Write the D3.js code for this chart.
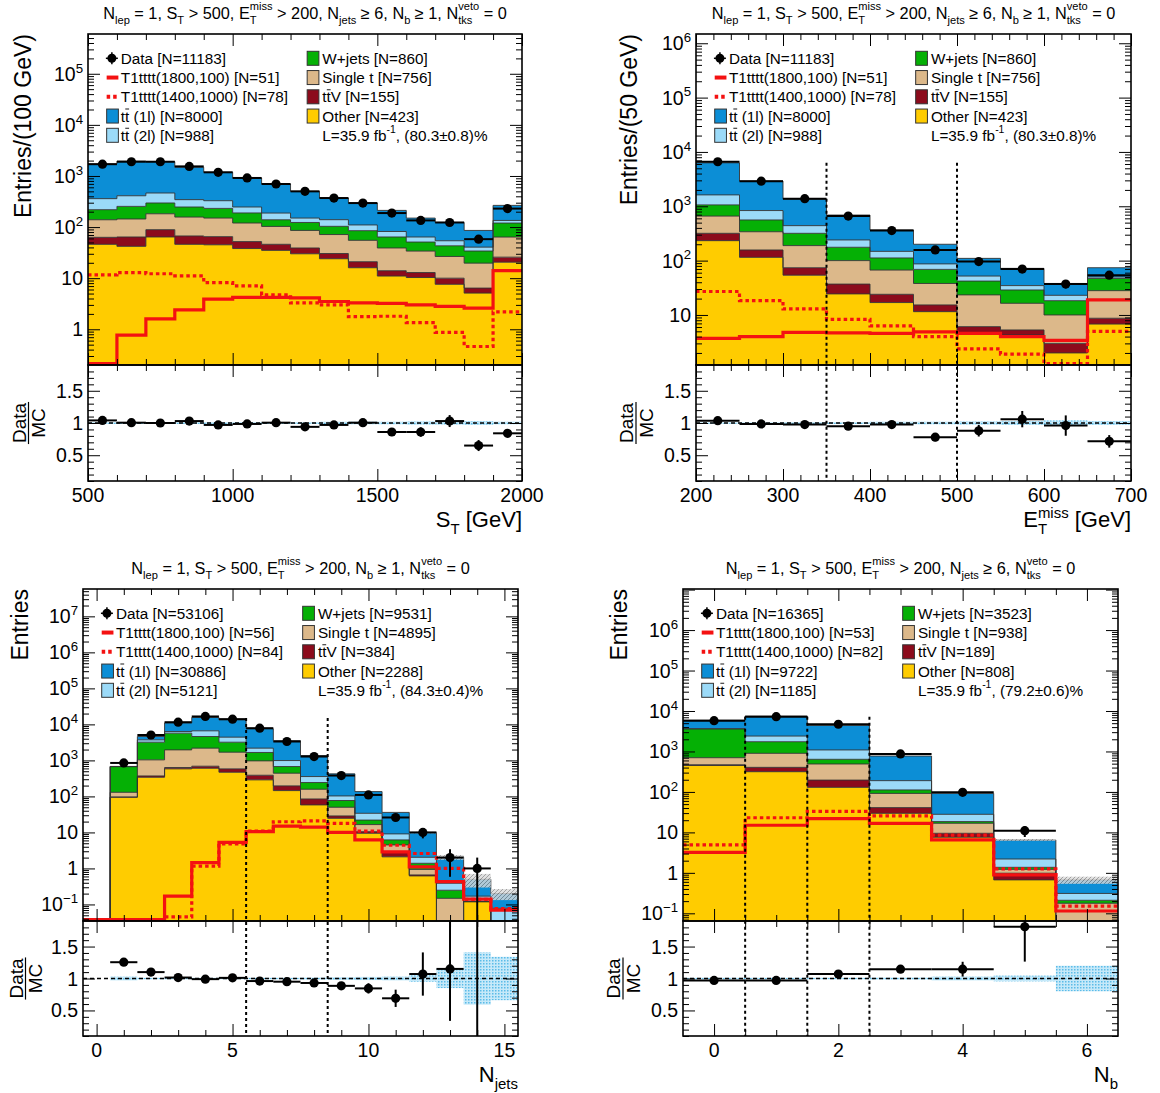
<!DOCTYPE html>
<html><head><meta charset="utf-8">
<script src="https://cdn.jsdelivr.net/npm/d3@7"></script>
<style>
body{margin:0;background:#fff}
svg{display:block}
text{font-family:"Liberation Sans",Arial,Helvetica,sans-serif;white-space:pre}
</style>
</head><body><svg id="c" width="1160" height="1093"></svg>
<script>
// ---------------- DATA ----------------
// Panel 1: S_T
const p1Edges = [500,600,700,800,900,1000,1100,1200,1300,1400,1500,1600,1700,1800,1900,2000];
const p1Other = [46,42,64,46,45,38,35,30,24,16,11,10.3,7.6,5.1,20.6];
const p1TtV   = [17,22,25,21,20,14,11,9,6.4,5,3,2.6,2.4,1.3,5.2];
const p1SingleT = [76,80,93,90,85,68,57,47,41,34,25,21,16.6,13.3,38];
const p1WJets = [80,110,114,90,82,69,36,37,32,30,25,17,16.4,14.3,56];
const p1Tt2l  = [141,156,168,97,96,58,49,27,36,25,18,13,11,6.5,15];
const p1Tt1l  = [1358,1540,1436,1136,852,667,509,350,231,185,130,86,69,45.5,131];
const p1Data  = [1700,1900,1900,1540,1180,914,697,500,370,295,188,135,123,58,230];
const p1Ratio = [1.04,1.005,1.0,1.03,0.97,0.985,1.005,0.94,0.97,1.005,0.86,0.86,1.03,0.65,0.84];
const p1Sig1  = [0.1,0.77,1.6,2.4,3.9,4.2,4.2,4.1,3.5,3.3,3.2,3.0,2.8,2.6,14.1];
const p1Sig2  = [11.6,12.9,12.2,11.1,8.2,7.1,4.7,3.3,3.0,1.77,1.8,1.35,0.87,0.46,2.2];
const p1McErr = [0.015,0.015,0.015,0.015,0.015,0.015,0.015,0.015,0.02,0.02,0.02,0.025,0.025,0.03,0.02];
const p1LegendN = [11183,51,78,8000,988,860,756,155,423];
const p1Eff = "(80.3\u00b10.8)%";

// Panel 2: MET
const p2Edges = [200,250,300,350,400,450,500,550,600,650,700];
const p2Other = [233,115,54,24.4,16.9,11.5,4.7,4.3,2.0,6.8];
const p2TtV   = [85,42,20,12.6,7.1,3.8,1.4,1.0,1.0,1.9];
const p2SingleT = [342,183,115,63,43,22.7,17.3,11.1,7,19.3];
const p2WJets = [400,220,129,76,45,31,18.6,12.4,8.3,19];
const p2Tt2l  = [560,274,122,64,36,18,10,5.9,4.7,3];
const p2Tt1l  = [4680,2086,910,450,218,113,58,37.3,15,24];
const p2Data  = [6600,2900,1380,660,357,157,96,70,37,54];
const p2Ratio = [1.036,0.985,0.975,0.95,0.975,0.78,0.88,1.06,0.96,0.715];
const p2Sig1  = [3.7,4.0,4.8,4.7,4.6,4.9,4.6,4.0,3.4,18.9];
const p2Sig2  = [27,18.4,12.9,8.3,6.3,4.0,2.37,1.9,1.1,5.0];
const p2McErr = [0.01,0.01,0.015,0.015,0.02,0.02,0.025,0.03,0.04,0.03];
const p2LegendN = [11183,51,78,8000,988,860,756,155,423];
const p2Eff = "(80.3\u00b10.8)%";
const p2Lines = [350,500];

// Panel 3: Njets
const p3Cats  = [0,1,2,3,4,5,6,7,8,9,10,11,12,13,14,15];
const p3Other = [0,95,341,582,607,470,288,145,58,24.7,9.5,2.1,0.62,0,0.12,0];
const p3TtV   = [0,1,29,53,83,112,99,51,27,4,1,0.8,0.04,0,0,0];
const p3SingleT = [0,34,665,1325,1500,1108,583,245,73,21.3,6,1.6,0.28,0.148,0,0];
const p3WJets = [0,540,2165,3740,2420,1510,690,235,85,27,5.5,1.7,0.45,0.1,0,0];
const p3Tt2l  = [0,5,520,630,2010,1220,530,314,113,26,12,2.9,0.65,0.14,0.05,0.078];
const p3Tt1l  = [0,5,890,4670,8950,8980,5340,2540,1009,320,102,26.9,7.86,1.66,0.33,0.122];
const p3Data  = [0,850,5070,11500,16600,14000,7850,3350,1280,380,110,26,10,2,1,0];
const p3Ratio = [null,1.255,1.10,1.015,0.99,1.01,0.96,0.95,0.93,0.885,0.845,0.69,1.07,1.15,2.0,null];
const p3Sig1  = [0.01,0.01,0.01,0.17,1.45,5.3,10.5,15,14,10,6.2,2.9,1.1,0.43,0.14,0.07];
const p3Sig2  = [0.01,0.01,0.01,0.045,1.16,4.8,10.9,19.8,21,17.8,10.9,4.4,2.6,1.0,0.138,0.077];
const p3McErr = [0,0.03,0.01,0.01,0.01,0.01,0.01,0.01,0.015,0.02,0.025,0.03,0.05,0.15,0.41,0.34];
const p3LegendN = [53106,56,84,30886,5121,9531,4895,384,2288];
const p3Eff = "(84.3\u00b10.4)%";
const p3Lines = [5.5,8.5];

// Panel 4: Nb
const p4Cats  = [0,1,2,3,4,5,6];
const p4Other = [450,316,130,29.6,7.6,0.67,0];
const p4TtV   = [20,89,66,11.4,1.9,0.31,0];
const p4SingleT = [230,495,294,51,7.3,0.24,0.177];
const p4WJets = [2900,840,150,20,1.7,0.15,0.033];
const p4Tt2l  = [50,660,450,78,9.5,0.83,0.1];
const p4Tt1l  = [2280,5070,3300,581,64,4.3,0.36];
const p4Data  = [5750,7250,4700,870,98,11,0];
const p4Ratio = [0.97,0.97,1.07,1.146,1.146,1.81,null];
const p4Sig1  = [3.2,15,22,16.8,6.5,0.89,0.114];
const p4Sig2  = [4.9,23,33,25.5,8.6,1.25,0.15];
const p4McErr = [0.01,0.01,0.01,0.015,0.03,0.045,0.2];
const p4LegendN = [16365,53,82,9722,1185,3523,938,189,808];
const p4Eff = "(79.2\u00b10.6)%";
const p4Lines = [0.5,1.5,2.5];

const COLORS = {other:'#ffcc00', ttv:'#8c0b1c', st:'#dcb88a', w:'#05b005', tt2l:'#9bdaf8', tt1l:'#0c8ed6'};
const RED = '#f41111';

// ---------------- HELPERS ----------------
const svg = d3.select('#c');
const defs = svg.append('defs');
const hp = defs.append('pattern').attr('id','hatch').attr('width',4).attr('height',4).attr('patternUnits','userSpaceOnUse');
hp.append('rect').attr('width',4).attr('height',4).attr('fill','#d8d8d8');
hp.append('path').attr('d','M0,4 L4,0').attr('stroke','#777').attr('stroke-width',0.8);
const bp = defs.append('pattern').attr('id','dotblue').attr('width',3).attr('height',3).attr('patternUnits','userSpaceOnUse');
bp.append('rect').attr('width',3).attr('height',3).attr('fill','#c6e9f9');
bp.append('rect').attr('width',1.5).attr('height',1.5).attr('fill','#5bbbe8');

function rich(parent, x, y, segs, fs, opts={}) {
  const anchor = opts.anchor||'start', rot = opts.rot||0;
  const subF = opts.subF||0.68;
  const subDy = opts.subDy!=null?opts.subDy:0.3, supDy = opts.supDy!=null?opts.supDy:-0.55;
  const outer = parent.append('g').attr('transform', `translate(${x},${y}) rotate(${rot})`);
  const g = outer.append('g');
  let cx = 0;
  const add = (t, px, py, size) => {
    const el = g.append('text').attr('x',px).attr('y',py).attr('font-size',size).attr('fill','#000').text(t);
    return el.node().getComputedTextLength();
  };
  segs.forEach(s => {
    if (typeof s === 'string') cx += add(s, cx, 0, fs);
    else if (s.bar) {
      const w = add(s.bar, cx, 0, fs);
      g.append('line').attr('x1',cx+w*0.05).attr('x2',cx+w*0.95).attr('y1',-fs*0.82).attr('y2',-fs*0.82)
        .attr('stroke','#000').attr('stroke-width',0.9);
      cx += w;
    } else {
      let w = 0;
      if (s.sub!=null) w = Math.max(w, add(s.sub, cx, fs*subDy, fs*subF));
      if (s.sup!=null) w = Math.max(w, add(s.sup, cx, fs*supDy, fs*subF));
      cx += w;
    }
  });
  const off = anchor==='middle' ? -cx/2 : anchor==='end' ? -cx : 0;
  g.attr('transform', `translate(${off},0)`);
  return cx;
}

function ticks(g, axisFn, scale, tx, ty, vals, len) {
  g.append('g').attr('transform',`translate(${tx},${ty})`)
    .call(axisFn(scale).tickValues(vals).tickSize(-len).tickFormat('').tickSizeOuter(0))
    .call(a => { a.select('.domain').remove(); a.selectAll('line').attr('stroke','#000').attr('stroke-width',1); });
}

const titleFull = ['N',{sub:'lep'},' = 1, S',{sub:'T'},' > 500, E',{sub:'T',sup:'miss'},' > 200, N',{sub:'jets'},' \u2265 6, N',{sub:'b'},' \u2265 1, N',{sub:'tks',sup:'veto'},' = 0'];
const titleNj = ['N',{sub:'lep'},' = 1, S',{sub:'T'},' > 500, E',{sub:'T',sup:'miss'},' > 200, N',{sub:'b'},' \u2265 1, N',{sub:'tks',sup:'veto'},' = 0'];
const titleNb = ['N',{sub:'lep'},' = 1, S',{sub:'T'},' > 500, E',{sub:'T',sup:'miss'},' > 200, N',{sub:'jets'},' \u2265 6, N',{sub:'tks',sup:'veto'},' = 0'];

const comps = (o,v,s,w,t2,t1) => ({other:o, ttv:v, st:s, w:w, tt2l:t2, tt1l:t1});

const panels = [
  {id:1, x0:88, x1:522, yTop:34, ySplit:365, yBot:481, xDomain:[500,2000], yDomain:[0.2,6.0e5],
   lo:p1Edges.slice(0,-1), hi:p1Edges.slice(1), comps:comps(p1Other,p1TtV,p1SingleT,p1WJets,p1Tt2l,p1Tt1l),
   data:p1Data, ratio:p1Ratio, sig1:p1Sig1, sig2:p1Sig2, mcErr:p1McErr, legendN:p1LegendN, eff:p1Eff,
   xMajor:[500,1000,1500,2000], xMinor:d3.range(500,2001,100), xLabels:[500,1000,1500,2000],
   title:titleFull, xTitle:['S',{sub:'T'},' [GeV]'], yTitle:'Entries/(100 GeV)', yTitleX:31, rTitleX:28.5,
   vlines:[], vTop:1},
  {id:2, x0:696, x1:1131, yTop:34, ySplit:365, yBot:481, xDomain:[200,700], yDomain:[1.2,1.48e6],
   lo:p2Edges.slice(0,-1), hi:p2Edges.slice(1), comps:comps(p2Other,p2TtV,p2SingleT,p2WJets,p2Tt2l,p2Tt1l),
   data:p2Data, ratio:p2Ratio, sig1:p2Sig1, sig2:p2Sig2, mcErr:p2McErr, legendN:p2LegendN, eff:p2Eff,
   xMajor:[200,300,400,500,600,700], xMinor:d3.range(200,701,20), xLabels:[200,300,400,500,600,700],
   title:titleFull, xTitle:['E',{sub:'T',sup:'miss'},' [GeV]'], yTitle:'Entries/(50 GeV)', yTitleX:637, rTitleX:636,
   vlines:p2Lines, vTop:6300},
  {id:3, x0:83, x1:518, yTop:589, ySplit:921, yBot:1036, xDomain:[-0.5,15.5], yDomain:[0.0347,5.75e7],
   lo:p3Cats.map(c=>c-0.5), hi:p3Cats.map(c=>c+0.5), comps:comps(p3Other,p3TtV,p3SingleT,p3WJets,p3Tt2l,p3Tt1l),
   data:p3Data, ratio:p3Ratio, sig1:p3Sig1, sig2:p3Sig2, mcErr:p3McErr, legendN:p3LegendN, eff:p3Eff,
   xMajor:[0,5,10,15], xMinor:d3.range(0,16,1), xLabels:[0,5,10,15],
   title:titleNj, xTitle:['N',{sub:'jets'}], yTitle:'Entries', yTitleX:28, rTitleX:25.5,
   vlines:p3Lines, vTop:15000},
  {id:4, x0:683, x1:1118, yTop:589, ySplit:921, yBot:1036, xDomain:[-0.5,6.5], yDomain:[0.0646,1.035e7],
   lo:p4Cats.map(c=>c-0.5), hi:p4Cats.map(c=>c+0.5), comps:comps(p4Other,p4TtV,p4SingleT,p4WJets,p4Tt2l,p4Tt1l),
   data:p4Data, ratio:p4Ratio, sig1:p4Sig1, sig2:p4Sig2, mcErr:p4McErr, legendN:p4LegendN, eff:p4Eff,
   xMajor:[0,2,4,6], xMinor:d3.range(-0.5,6.51,0.5), xLabels:[0,2,4,6],
   title:titleNb, xTitle:['N',{sub:'b'}], yTitle:'Entries', yTitleX:627, rTitleX:623,
   vlines:p4Lines, vTop:7250}
];

function drawPanel(P) {
  const g = svg.append('g');
  const W = P.x1 - P.x0;
  const x = d3.scaleLinear().domain(P.xDomain).range([P.x0, P.x1]);
  const y = d3.scaleLog().domain(P.yDomain).range([P.ySplit, P.yTop]);
  const yr = d3.scaleLinear().domain([0.1,1.9]).range([P.yBot, P.ySplit]);
  defs.append('clipPath').attr('id','cu'+P.id).append('rect')
    .attr('x',P.x0).attr('y',P.yTop).attr('width',W).attr('height',P.ySplit-P.yTop);
  defs.append('clipPath').attr('id','cr'+P.id).append('rect')
    .attr('x',P.x0).attr('y',P.ySplit).attr('width',W).attr('height',P.yBot-P.ySplit);
  const up = g.append('g').attr('clip-path',`url(#cu${P.id})`);
  const rg = g.append('g').attr('clip-path',`url(#cr${P.id})`);
  const n = P.lo.length;
  const lowLine = y.invert(P.ySplit - 1.5);
  const cvL = v => Math.max(v, lowLine);
  const cvA = v => Math.max(v, P.yDomain[0]*0.3);
  const keys = ['other','ttv','st','w','tt2l','tt1l'];
  const rows = d3.range(n).map(i => Object.fromEntries(keys.map(k => [k, P.comps[k][i]])));
  const series = d3.stack().keys(keys)(rows);
  const pts = d3.range(n).map(i => ({e:P.lo[i], i}));
  pts.push({e:P.hi[n-1], i:n-1});
  const area = d3.area().curve(d3.curveStepAfter).x(d => x(d.e));
  const line = d3.line().curve(d3.curveStepAfter).x(d => x(d.e));
  series.forEach((s, li) => {
    up.append('path').attr('d', area.y0(d => y(cvA(s[d.i][0]))).y1(d => y(cvA(s[d.i][1])))(pts))
      .attr('fill', COLORS[keys[li]]).attr('stroke','none');
  });
  series.forEach(s => {
    up.append('path').attr('d', line.y(d => y(cvA(s[d.i][1])))(pts))
      .attr('fill','none').attr('stroke','#333').attr('stroke-width',0.9);
  });
  const total = d3.range(n).map(i => series[series.length-1][i][1]);
  // MC stat hatch
  d3.range(n).forEach(i => {
    const e = P.mcErr[i];
    if (e > 0.04 && total[i] > 0) {
      up.append('rect').attr('x', x(P.lo[i])).attr('width', x(P.hi[i]) - x(P.lo[i]))
        .attr('y', y(total[i]*(1+e))).attr('height', y(cvA(total[i]*(1-e))) - y(total[i]*(1+e)))
        .attr('fill','url(#hatch)').attr('opacity',0.8);
    }
  });
  // signals
  up.append('path').attr('d', line.y(d => y(cvL(P.sig1[d.i])))(pts))
    .attr('fill','none').attr('stroke',RED).attr('stroke-width',3.2);
  up.append('path').attr('d', line.y(d => y(cvL(P.sig2[d.i])))(pts))
    .attr('fill','none').attr('stroke',RED).attr('stroke-width',3.2).attr('stroke-dasharray','3.5,3');
  // data
  d3.range(n).forEach(i => {
    const v = P.data[i];
    if (!v) return;
    const cxp = (x(P.lo[i]) + x(P.hi[i]))/2, e = Math.sqrt(v);
    up.append('line').attr('x1',x(P.lo[i])).attr('x2',x(P.hi[i])).attr('y1',y(v)).attr('y2',y(v))
      .attr('stroke','#000').attr('stroke-width',2);
    up.append('line').attr('x1',cxp).attr('x2',cxp).attr('y1',y(cvA(v-e))).attr('y2',y(v+e))
      .attr('stroke','#000').attr('stroke-width',2);
    up.append('circle').attr('cx',cxp).attr('cy',y(v)).attr('r',4.6).attr('fill','#000');
  });
  // ratio
  d3.range(n).forEach(i => {
    const e = Math.max(P.mcErr[i], 0.012);
    if (total[i] <= 0) return;
    rg.append('rect').attr('x',x(P.lo[i])).attr('width',x(P.hi[i])-x(P.lo[i]))
      .attr('y',yr(1+e)).attr('height',yr(1-e)-yr(1+e)).attr('fill','url(#dotblue)');
  });
  rg.append('line').attr('x1',P.x0).attr('x2',P.x1).attr('y1',yr(1)).attr('y2',yr(1))
    .attr('stroke','#000').attr('stroke-width',1.5).attr('stroke-dasharray','4,3');
  d3.range(n).forEach(i => {
    const r = P.ratio[i];
    if (r == null) return;
    const cxp = (x(P.lo[i]) + x(P.hi[i]))/2, e = r/Math.sqrt(P.data[i]);
    rg.append('line').attr('x1',x(P.lo[i])).attr('x2',x(P.hi[i])).attr('y1',yr(r)).attr('y2',yr(r))
      .attr('stroke','#000').attr('stroke-width',2);
    rg.append('line').attr('x1',cxp).attr('x2',cxp).attr('y1',yr(r-e)).attr('y2',yr(r+e))
      .attr('stroke','#000').attr('stroke-width',2);
    rg.append('circle').attr('cx',cxp).attr('cy',yr(r)).attr('r',4.6).attr('fill','#000');
  });
  // vertical dotted lines
  P.vlines.forEach(v => {
    g.append('line').attr('x1',x(v)).attr('x2',x(v)).attr('y1',y(P.vTop)).attr('y2',P.yBot)
      .attr('stroke','#000').attr('stroke-width',2).attr('stroke-dasharray','3,3');
  });
  // frames
  g.append('rect').attr('x',P.x0).attr('y',P.yTop).attr('width',W).attr('height',P.ySplit-P.yTop)
    .attr('fill','none').attr('stroke','#000').attr('stroke-width',1.6);
  g.append('rect').attr('x',P.x0).attr('y',P.ySplit).attr('width',W).attr('height',P.yBot-P.ySplit)
    .attr('fill','none').attr('stroke','#000').attr('stroke-width',1.6);
  // ticks
  const kmin = Math.ceil(Math.log10(P.yDomain[0])), kmax = Math.floor(Math.log10(P.yDomain[1]));
  const majors = d3.range(kmin, kmax+1).map(k => Math.pow(10,k));
  const minors = [];
  for (let k = kmin-1; k <= kmax; k++) for (let m = 2; m <= 9; m++) {
    const v = m*Math.pow(10,k); if (v > P.yDomain[0] && v < P.yDomain[1]) minors.push(v);
  }
  ticks(g, d3.axisLeft, y, P.x0, 0, majors, 12);
  ticks(g, d3.axisLeft, y, P.x0, 0, minors, 6);
  ticks(g, d3.axisRight, y, P.x1, 0, majors, 12);
  ticks(g, d3.axisRight, y, P.x1, 0, minors, 6);
  const xMin = P.xMinor.filter(v => !P.xMajor.includes(v) && v > P.xDomain[0] && v < P.xDomain[1]);
  [[d3.axisTop,P.yTop],[d3.axisBottom,P.ySplit],[d3.axisTop,P.ySplit],[d3.axisBottom,P.yBot]].forEach(([fn,yy]) => {
    ticks(g, fn, x, 0, yy, P.xMajor, 12);
    ticks(g, fn, x, 0, yy, xMin, 6);
  });
  const rMaj = [0.5,1,1.5], rMin = d3.range(1,19).map(k => k/10).filter(v => !rMaj.includes(v));
  ticks(g, d3.axisLeft, yr, P.x0, 0, rMaj, 12);
  ticks(g, d3.axisLeft, yr, P.x0, 0, rMin, 6);
  ticks(g, d3.axisRight, yr, P.x1, 0, rMaj, 12);
  ticks(g, d3.axisRight, yr, P.x1, 0, rMin, 6);
  // labels
  const FS = 19.5;
  majors.forEach(v => {
    const k = Math.round(Math.log10(v)); const yy = y(v);
    if (yy < P.yTop + 4 || yy > P.ySplit - 4) return;
    const segs = k === 0 ? ['1'] : k === 1 ? ['10'] : ['10', {sup: k < 0 ? '\u2212' + (-k) : String(k)}];
    rich(g, P.x0 - 5, yy + 7, segs, FS, {anchor:'end', supDy:-0.42});
  });
  [[0.5,'0.5'],[1,'1'],[1.5,'1.5']].forEach(([v,t]) => rich(g, P.x0 - 5, yr(v) + 7, [t], FS, {anchor:'end'}));
  P.xLabels.forEach(v => rich(g, x(v), P.yBot + 21, [String(v)], FS, {anchor:'middle'}));
  // titles
  rich(g, (P.x0 + P.x1)/2, P.yTop - 15, P.title, 16.3, {anchor:'middle', subDy:0.3, supDy:-0.55});
  rich(g, P.x1, P.yBot + 46, P.xTitle, 22, {anchor:'end', subDy:0.33, supDy:-0.42});
  rich(g, P.yTitleX, P.yTop, [P.yTitle], 23, {anchor:'end', rot:-90});
  // ratio title fraction
  const rcY = (P.ySplit + P.yBot)/2;
  const rgT = g.append('g').attr('transform', `translate(${P.rTitleX},${rcY}) rotate(-90)`);
  const w1 = rich(rgT, 0, -3, ['Data'], 19, {anchor:'middle'});
  rich(rgT, 0, 3 + 19*0.72, ['MC'], 19, {anchor:'middle'});
  rgT.append('line').attr('x1',-w1/2-1).attr('x2',w1/2+1).attr('y1',0).attr('y2',0).attr('stroke','#000').attr('stroke-width',1.2);
  // legend
  const L = g.append('g');
  const rowY = k => P.yTop + 24.3 + k*19.25;
  const FL = 15.3;
  const mx = P.x0 + 0.055*W, bx = P.x0 + 0.043*W, bw = 0.027*W, tx = P.x0 + 0.0756*W;
  const bx2 = P.x0 + 0.505*W, tx2 = P.x0 + 0.54*W;
  const N = P.legendN;
  // data
  L.append('line').attr('x1',mx-6).attr('x2',mx+6).attr('y1',rowY(0)).attr('y2',rowY(0)).attr('stroke','#000').attr('stroke-width',1.5);
  L.append('line').attr('x1',mx).attr('x2',mx).attr('y1',rowY(0)-6).attr('y2',rowY(0)+6).attr('stroke','#000').attr('stroke-width',1.5);
  L.append('circle').attr('cx',mx).attr('cy',rowY(0)).attr('r',4.5).attr('fill','#000');
  rich(L, tx, rowY(0)+5.5, [`Data [N=${N[0]}]`], FL);
  L.append('line').attr('x1',bx).attr('x2',bx+bw).attr('y1',rowY(1)).attr('y2',rowY(1)).attr('stroke',RED).attr('stroke-width',4);
  rich(L, tx, rowY(1)+5.5, [`T1tttt(1800,100) [N=${N[1]}]`], FL);
  L.append('line').attr('x1',bx).attr('x2',bx+bw).attr('y1',rowY(2)).attr('y2',rowY(2)).attr('stroke',RED).attr('stroke-width',4).attr('stroke-dasharray','3.5,3');
  rich(L, tx, rowY(2)+5.5, [`T1tttt(1400,1000) [N=${N[2]}]`], FL);
  const box = (bxx, k, col) => L.append('rect').attr('x',bxx).attr('y',rowY(k)-7).attr('width',bw).attr('height',14)
    .attr('fill',col).attr('stroke','#333').attr('stroke-width',1);
  box(bx, 3, COLORS.tt1l); rich(L, tx, rowY(3)+5.5, ['t',{bar:'t'},` (1l) [N=${N[3]}]`], FL);
  box(bx, 4, COLORS.tt2l); rich(L, tx, rowY(4)+5.5, ['t',{bar:'t'},` (2l) [N=${N[4]}]`], FL);
  box(bx2, 0, COLORS.w); rich(L, tx2, rowY(0)+5.5, [`W+jets [N=${N[5]}]`], FL);
  box(bx2, 1, COLORS.st); rich(L, tx2, rowY(1)+5.5, [`Single t [N=${N[6]}]`], FL);
  box(bx2, 2, COLORS.ttv); rich(L, tx2, rowY(2)+5.5, ['t',{bar:'t'},`V [N=${N[7]}]`], FL);
  box(bx2, 3, COLORS.other); rich(L, tx2, rowY(3)+5.5, [`Other [N=${N[8]}]`], FL);
  rich(L, tx2, rowY(4)+5.5, ['L=35.9 fb',{sup:'-1'},`, ${P.eff}`], FL, {supDy:-0.5});
}

panels.forEach(drawPanel);
</script></body></html>
